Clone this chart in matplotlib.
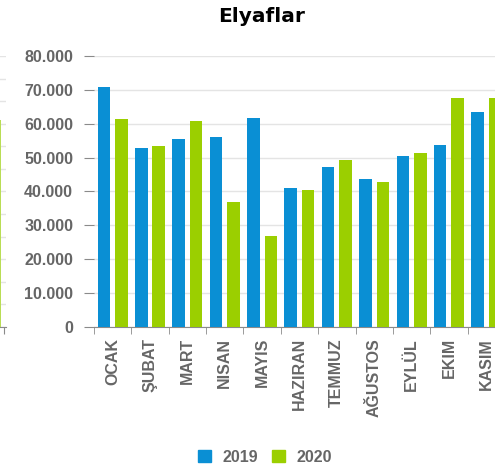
import numpy as np
import matplotlib
matplotlib.use('Agg')
import matplotlib.pyplot as plt
from matplotlib.patches import Patch
from matplotlib.ticker import FuncFormatter

# data (ton)
months = ['OCAK', 'ŞUBAT', 'MART', 'NISAN', 'MAYIS', 'HAZIRAN', 'TEMMUZ',
          'AĞUSTOS', 'EYLÜL', 'EKIM', 'KASIM']
y2019 = [70800, 52800, 55500, 56000, 61700, 41000, 47200, 43700, 50500, 53600, 63500]
y2020 = [61400, 53400, 60800, 36900, 26800, 40400, 49300, 42800, 51400, 67500, 67500]

# piece of the neighbouring chart visible at the left edge
left_ticks = list(range(13))
left_bar = [9.15]

blue = '#0a8fd4'
green = '#9bcf00'
grey = '#666666'
font = ['Liberation Sans', 'DejaVu Sans']

W, H = 495, 469
fig = plt.figure(figsize=(W / 100, H / 100), dpi=100)

x0, xr, ytop, ybot = 94, 505, 56, 327
ax = fig.add_axes([x0 / W, (H - ybot) / H, (xr - x0) / W, (ybot - ytop) / H])

x = np.arange(len(months))
ax.bar(x - 0.235, y2019, width=0.335, color=blue, zorder=3)
ax.bar(x + 0.233, y2020, width=0.335, color=green, zorder=3)

ax.set_xlim(-0.5, len(months) - 0.5)
ax.set_ylim(0, 80000)
ax.set_yticks(np.arange(0, 80001, 10000))
ax.yaxis.set_major_formatter(FuncFormatter(lambda v, p: f'{int(v):,}'.replace(',', '.')))
ax.grid(axis='y', color='#e4e4e4', linewidth=1, zorder=0)

for s in ['top', 'right', 'left']:
    ax.spines[s].set_visible(False)
ax.spines['bottom'].set_color('#8a8a8a')

ax.set_xticks(x)
ax.set_xticklabels(months, rotation=90, fontsize=11.5, fontweight='bold',
                   color=grey, family=font)
ax.set_xticks(np.arange(-0.5, len(months), 1), minor=True)
ax.tick_params(axis='x', which='major', length=0, pad=8)
ax.tick_params(axis='x', which='minor', length=5, color='#8a8a8a', direction='out')
ax.tick_params(axis='y', length=7, color='#8a8a8a', pad=8)
for t in ax.get_yticklabels():
    t.set_fontsize(11.5)
    t.set_fontweight('bold')
    t.set_color(grey)
    t.set_family(font)

# left remnant
ax0 = fig.add_axes([-30 / W, (H - ybot) / H, 36 / W, (ybot - ytop) / H])
ax0.bar([0.0], left_bar, width=0.7, align='edge', color='#b9dd55', zorder=3)
ax0.set_xlim(-1, 1)
ax0.set_ylim(0, 12)
ax0.set_yticks(left_ticks)
ax0.grid(axis='y', color='#e4e4e4', linewidth=1, zorder=0)
for s in ['top', 'right', 'left']:
    ax0.spines[s].set_visible(False)
ax0.spines['bottom'].set_color('#8a8a8a')
ax0.set_xticks([0.9])
ax0.tick_params(axis='x', length=5, color='#8a8a8a', labelbottom=False)
ax0.tick_params(axis='y', length=0, labelleft=False)

fig.text(262 / W, 1 - 17 / H, 'Elyaflar', ha='center', va='center',
         fontsize=14.5, fontweight='bold', color='black', family='DejaVu Sans')

handles = [Patch(color=blue, label='2019'), Patch(color=green, label='2020')]
fig.legend(handles=handles, loc='center', bbox_to_anchor=(265 / W, 1 - 457 / H),
           ncol=2, frameon=False, handlelength=0.8, handleheight=0.8,
           handletextpad=0.7, columnspacing=0.9,
           prop={'family': font, 'weight': 'bold', 'size': 11.5},
           labelcolor=grey)

fig.savefig('out.png', dpi=100)
